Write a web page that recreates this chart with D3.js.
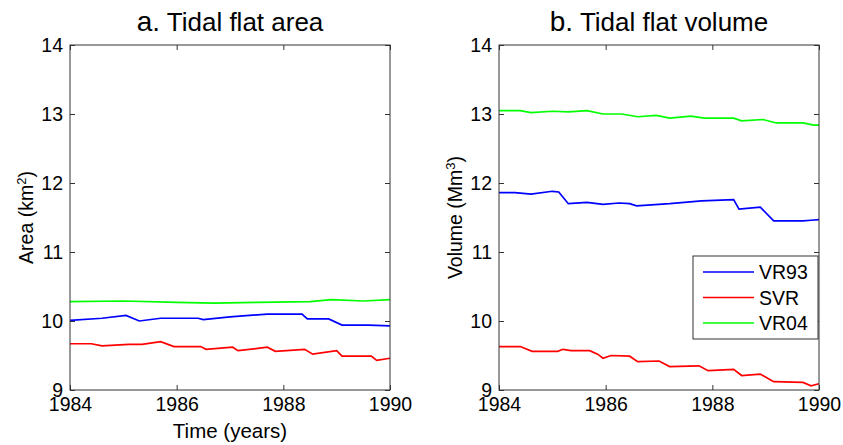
<!DOCTYPE html>
<html>
<head>
<meta charset="utf-8">
<script src="https://cdn.jsdelivr.net/npm/d3@7"></script>
<style>
  body { margin: 0; background: #fff; }
  svg text { font-family: "Liberation Sans", Arial, Helvetica, sans-serif; fill: #000; }
</style>
</head>
<body>
<svg id="chart" width="843" height="445"></svg>
<script>
var xTicks = [1984, 1986, 1988, 1990]
var yTicks = [9, 10, 11, 12, 13, 14]
var seriesNames = ["VR93", "SVR", "VR04"]
var colors = ["#0000ff", "#ff0000", "#00ff00"]

// [year, km2]
var areaVR93 = [[1984, 10.01], [1984.6, 10.04], [1985.05, 10.08], [1985.3, 10.0], [1985.7, 10.04],
  [1986.4, 10.04], [1986.5, 10.02], [1987.0, 10.06], [1987.7, 10.10], [1988.35, 10.10],
  [1988.45, 10.03], [1988.85, 10.03], [1989.1, 9.94], [1989.6, 9.94], [1990, 9.93]]
var areaSVR = [[1984, 9.67], [1984.4, 9.67], [1984.6, 9.64], [1985.1, 9.66], [1985.35, 9.66],
  [1985.7, 9.70], [1985.95, 9.63], [1986.45, 9.63], [1986.55, 9.59], [1987.05, 9.62],
  [1987.15, 9.57], [1987.7, 9.62], [1987.85, 9.56], [1988.4, 9.59], [1988.55, 9.52],
  [1989.0, 9.57], [1989.1, 9.49], [1989.65, 9.49], [1989.75, 9.43], [1990, 9.46]]
var areaVR04 = [[1984, 10.28], [1985, 10.29], [1986.0, 10.27], [1986.7, 10.26], [1987.5, 10.27],
  [1988.5, 10.28], [1988.9, 10.31], [1989.5, 10.29], [1990, 10.31]]

// [year, Mm3]
var volVR93 = [[1984, 11.86], [1984.3, 11.86], [1984.6, 11.84], [1985.0, 11.88], [1985.12, 11.87],
  [1985.3, 11.70], [1985.65, 11.72], [1985.95, 11.69], [1986.25, 11.71], [1986.45, 11.70],
  [1986.58, 11.67], [1987.2, 11.70], [1987.8, 11.74], [1988.4, 11.76], [1988.5, 11.62],
  [1988.9, 11.65], [1989.15, 11.45], [1989.7, 11.45], [1989.85, 11.46], [1990, 11.47]]
var volSVR = [[1984, 9.63], [1984.4, 9.63], [1984.62, 9.56], [1985.1, 9.56], [1985.2, 9.59],
  [1985.35, 9.57], [1985.7, 9.57], [1985.85, 9.52], [1985.95, 9.46], [1986.1, 9.50],
  [1986.45, 9.49], [1986.6, 9.41], [1987.0, 9.42], [1987.2, 9.34], [1987.75, 9.35],
  [1987.92, 9.28], [1988.4, 9.30], [1988.55, 9.21], [1988.9, 9.23], [1989.15, 9.12],
  [1989.7, 9.11], [1989.85, 9.06], [1990, 9.09]]
var volVR04 = [[1984, 13.05], [1984.4, 13.05], [1984.6, 13.02], [1985.0, 13.04], [1985.3, 13.03],
  [1985.65, 13.05], [1985.95, 13.0], [1986.3, 13.0], [1986.6, 12.96], [1986.95, 12.98],
  [1987.2, 12.94], [1987.6, 12.97], [1987.85, 12.94], [1988.4, 12.94], [1988.55, 12.90],
  [1988.95, 12.92], [1989.2, 12.87], [1989.7, 12.87], [1989.9, 12.84], [1990, 12.84]]

var svg = d3.select("#chart")
var plotTop = 45, plotBottom = 390

var panels = [
  {left: 70, right: 390, title: "a.", titleRest: " Tidal flat area", ylab: "Area (km", sup: "2", xlab: "Time (years)",
   data: [areaVR93, areaSVR, areaVR04], legend: false},
  {left: 499, right: 819, title: "b.", titleRest: " Tidal flat volume", ylab: "Volume (Mm", sup: "3", xlab: null,
   data: [volVR93, volSVR, volVR04], legend: true}
]

panels.forEach(function(p) {
  var x = d3.scaleLinear().domain([1984, 1990]).range([p.left, p.right])
  var y = d3.scaleLinear().domain([9, 14]).range([plotBottom, plotTop])
  var g = svg.append("g")

  var line = d3.line().x(function(d) { return x(d[0]) }).y(function(d) { return y(d[1]) })
  p.data.forEach(function(s, i) {
    g.append("path").datum(s).attr("d", line)
      .attr("fill", "none").attr("stroke", colors[i]).attr("stroke-width", 1.7)
  })

  // box + inward ticks (matlab style)
  g.append("rect").attr("x", p.left).attr("y", plotTop)
    .attr("width", p.right - p.left).attr("height", plotBottom - plotTop)
    .attr("fill", "none").attr("stroke", "#333").attr("stroke-width", 1)

  var xb = g.append("g").attr("transform", "translate(0," + plotBottom + ")")
    .call(d3.axisBottom(x).tickValues(xTicks).tickFormat(d3.format("d")).tickSizeInner(-5).tickSizeOuter(0).tickPadding(7))
  var xt = g.append("g").attr("transform", "translate(0," + plotTop + ")")
    .call(d3.axisTop(x).tickValues(xTicks).tickFormat("").tickSizeInner(-5).tickSizeOuter(0))
  var yl = g.append("g").attr("transform", "translate(" + p.left + ",0)")
    .call(d3.axisLeft(y).tickValues(yTicks).tickFormat(d3.format("d")).tickSizeInner(-5).tickSizeOuter(0).tickPadding(7))
  var yr = g.append("g").attr("transform", "translate(" + p.right + ",0)")
    .call(d3.axisRight(y).tickValues(yTicks).tickFormat("").tickSizeInner(-5).tickSizeOuter(0))
  ;[xb, xt, yl, yr].forEach(function(a) {
    a.select(".domain").remove()
    a.selectAll("line").attr("stroke", "#333")
    a.selectAll("text").style("font-size", "19.5px").attr("fill", "#000")
  })
  xb.selectAll("text").attr("y", 7).attr("dy", "0.72em")
  yl.selectAll("text").attr("dy", "0.35em")

  var t = svg.append("text").attr("x", (p.left + p.right) / 2).attr("y", 31)
    .attr("text-anchor", "middle").style("font-size", "26px")
  t.append("tspan").text(p.title).style("font-size", "28px")
  t.append("tspan").text(p.titleRest)

  var cy = (plotTop + plotBottom) / 2
  var yt = svg.append("text").attr("transform", "translate(" + (p.left - 37) + "," + cy + ") rotate(-90)")
    .attr("text-anchor", "middle").style("font-size", "19.5px")
  yt.append("tspan").text(p.ylab)
  yt.append("tspan").text(p.sup).attr("baseline-shift", "super").style("font-size", "13px")
  yt.append("tspan").text(")")

  if (p.xlab) {
    svg.append("text").attr("x", (p.left + p.right) / 2).attr("y", 438)
      .attr("text-anchor", "middle").style("font-size", "20.5px").text(p.xlab)
  }

  if (p.legend) {
    var lx = 693, ly = 256, lw = 125, lh = 83
    var lg = svg.append("g")
    lg.append("rect").attr("x", lx).attr("y", ly).attr("width", lw).attr("height", lh)
      .attr("fill", "#fff").attr("stroke", "#333").attr("stroke-width", 1)
    seriesNames.forEach(function(n, i) {
      var yy = ly + 16 + i * 25.5
      lg.append("line").attr("x1", lx + 10).attr("x2", lx + 61).attr("y1", yy).attr("y2", yy)
        .attr("stroke", colors[i]).attr("stroke-width", 1.7)
      lg.append("text").attr("x", lx + 66).attr("y", yy).attr("dy", "0.36em")
        .style("font-size", "19.5px").text(n)
    })
  }
})
</script>
</body>
</html>
